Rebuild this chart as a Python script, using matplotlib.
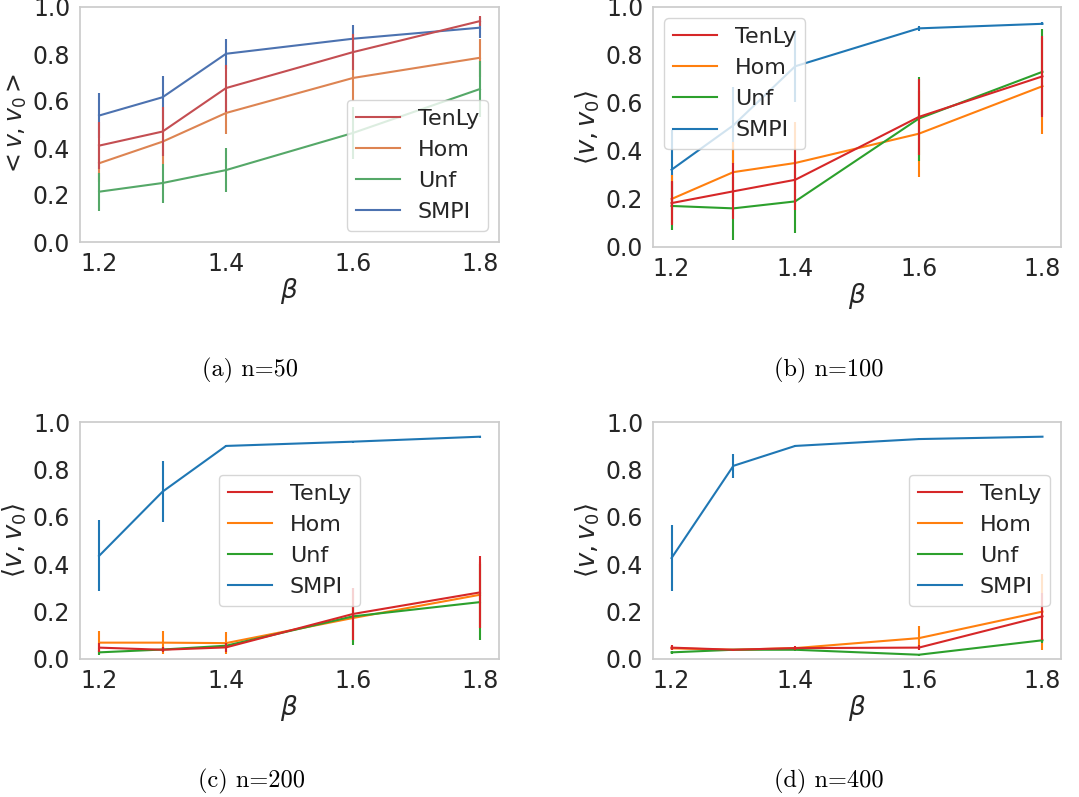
import numpy as np
import matplotlib
matplotlib.use("Agg")
import matplotlib.pyplot as plt

# beta values (x axis) and method names
beta = [1.2, 1.3, 1.4, 1.6, 1.8]
methods = ["TenLy", "Hom", "Unf", "SMPI"]

# (a) n=50
tenly_50 = [0.41, 0.47, 0.655, 0.808, 0.94]
tenly_50_err = [0.10, 0.105, 0.10, 0.075, 0.02]
hom_50 = [0.335, 0.427, 0.549, 0.698, 0.784]
hom_50_err = [0.08, 0.095, 0.09, 0.10, 0.08]
unf_50 = [0.214, 0.251, 0.306, 0.464, 0.651]
unf_50_err = [0.08, 0.083, 0.095, 0.11, 0.12]
smpi_50 = [0.538, 0.616, 0.801, 0.865, 0.912]
smpi_50_err = [0.096, 0.092, 0.064, 0.057, 0.045]

# (b) n=100
tenly_100 = [0.183, 0.232, 0.28, 0.542, 0.711]
tenly_100_err = [0.09, 0.117, 0.125, 0.16, 0.17]
hom_100 = [0.2, 0.312, 0.35, 0.472, 0.67]
hom_100_err = [0.1, 0.125, 0.17, 0.18, 0.2]
unf_100 = [0.171, 0.161, 0.19, 0.535, 0.73]
unf_100_err = [0.1, 0.13, 0.13, 0.175, 0.18]
smpi_100 = [0.322, 0.507, 0.753, 0.911, 0.93]
smpi_100_err = [0.167, 0.16, 0.15, 0.01, 0.006]

# (c) n=200
tenly_200 = [0.048, 0.039, 0.049, 0.19, 0.281]
tenly_200_err = [0.02, 0.01, 0.02, 0.11, 0.152]
hom_200 = [0.069, 0.069, 0.067, 0.173, 0.271]
hom_200_err = [0.048, 0.048, 0.046, 0.1, 0.14]
unf_200 = [0.028, 0.04, 0.056, 0.18, 0.24]
unf_200_err = [0.01, 0.01, 0.01, 0.12, 0.16]
smpi_200 = [0.435, 0.706, 0.899, 0.917, 0.938]
smpi_200_err = [0.15, 0.13, 0.005, 0.004, 0.004]

# (d) n=400
tenly_400 = [0.048, 0.039, 0.046, 0.048, 0.18]
tenly_400_err = [0.01, 0.005, 0.01, 0.01, 0.1]
hom_400 = [0.045, 0.039, 0.046, 0.088, 0.2]
hom_400_err = [0.005, 0.005, 0.005, 0.05, 0.16]
unf_400 = [0.028, 0.039, 0.039, 0.018, 0.079]
unf_400_err = [0.005, 0.005, 0.005, 0.005, 0.01]
smpi_400 = [0.426, 0.815, 0.899, 0.928, 0.938]
smpi_400_err = [0.14, 0.05, 0.005, 0.004, 0.003]

captions = ["(a) n=50", "(b) n=100", "(c) n=200", "(d) n=400"]

tab_colors = ["#d62728", "#ff7f0e", "#2ca02c", "#1f77b4"]
deep_colors = ["#c44e52", "#dd8452", "#55a868", "#4c72b0"]

plt.rcParams["font.family"] = ["DejaVu Sans"]
plt.rcParams["mathtext.fontset"] = "dejavusans"

fig = plt.figure(figsize=(10.79, 7.97), dpi=100)

W, H = 1079.0, 797.0
# axes boxes in pixels: left, top, right, bottom
boxes = [(80, 7, 499, 242), (653, 7, 1061, 247),
         (80, 422, 499, 659), (653, 422, 1061, 659)]
panels = [
    ([tenly_50, hom_50, unf_50, smpi_50],
     [tenly_50_err, hom_50_err, unf_50_err, smpi_50_err]),
    ([tenly_100, hom_100, unf_100, smpi_100],
     [tenly_100_err, hom_100_err, unf_100_err, smpi_100_err]),
    ([tenly_200, hom_200, unf_200, smpi_200],
     [tenly_200_err, hom_200_err, unf_200_err, smpi_200_err]),
    ([tenly_400, hom_400, unf_400, smpi_400],
     [tenly_400_err, hom_400_err, unf_400_err, smpi_400_err]),
]
legend_locs = ["lower right", "upper left", "center", "center right"]
ylabels = [r"$<v, v_0>$", r"$\langle v, v_0\rangle$",
           r"$\langle v, v_0\rangle$", r"$\langle v, v_0\rangle$"]
ylabel_sizes = [17, 18.5, 18.5, 18.5]
caption_pos = [(250, 370), (829, 370), (251, 781), (829, 781)]

for k in range(4):
    l, t, r, b = boxes[k]
    ax = fig.add_axes([l / W, 1 - b / H, (r - l) / W, (b - t) / H])
    means, errs = panels[k]
    cols = deep_colors if k == 0 else tab_colors
    handles = [None] * 4
    # draw SMPI first so TenLy ends on top
    zord = {3: 2, 1: 3, 2: 4, 0: 5}
    for i in [3, 1, 2, 0]:
        c = ax.errorbar(beta, means[i], yerr=errs[i], color=cols[i],
                        lw=1.5, elinewidth=1.5, capsize=0, label=methods[i],
                        zorder=zord[i])
        handles[i] = c[0]
    ax.set_ylim(0, 1)
    ax.set_xticks([1.2, 1.4, 1.6, 1.8])
    ax.set_yticks([0.0, 0.2, 0.4, 0.6, 0.8, 1.0])
    ax.tick_params(length=0, pad=7, labelsize=17, labelcolor="#262626")
    for s in ax.spines.values():
        s.set_color("#cccccc")
        s.set_linewidth(1.25)
    ax.set_xlabel(r"$\beta$", fontsize=19, color="#262626", labelpad=0)
    ax.set_ylabel(ylabels[k], fontsize=ylabel_sizes[k], color="#262626",
                  labelpad=3)
    leg = ax.legend(handles, methods, loc=legend_locs[k], fontsize=16,
                    framealpha=0.8, edgecolor="#cccccc", fancybox=True)
    leg.set_zorder(10)
    for txt in leg.get_texts():
        txt.set_color("#262626")
    fig.text(caption_pos[k][0] / W, 1 - caption_pos[k][1] / H, captions[k],
             family="cmr10", fontsize=17.5, ha="center", va="center")

fig.savefig("out.png", dpi=100)
